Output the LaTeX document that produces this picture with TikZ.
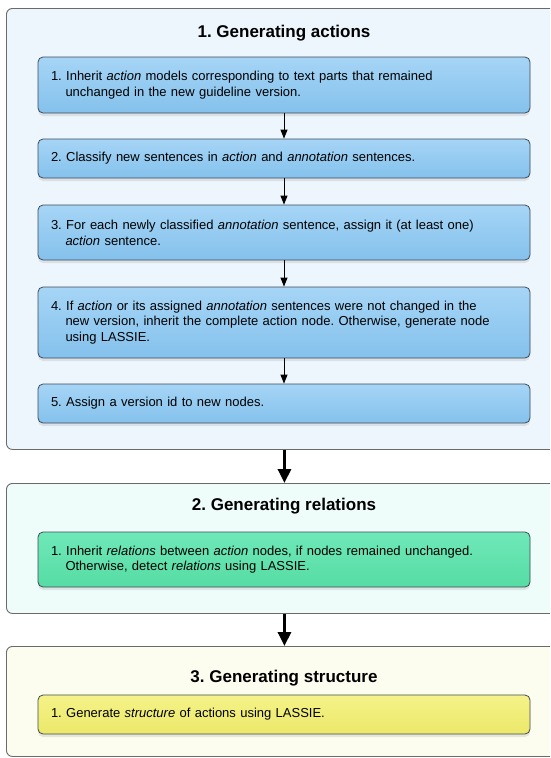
\documentclass[tikz,border=0pt]{standalone}
\usepackage{fontspec}
\setmainfont{Liberation Sans}
\usetikzlibrary{shadows,arrows.meta}
\frenchspacing
\definecolor{outerA}{HTML}{EEF6FD}
\definecolor{outerB}{HTML}{EFFDFA}
\definecolor{outerC}{HTML}{FDFDEF}
\definecolor{blueT}{HTML}{A6D5F6}
\definecolor{blueB}{HTML}{84C1EC}
\definecolor{greenT}{HTML}{6FE8B8}
\definecolor{greenB}{HTML}{56DCA4}
\definecolor{yelT}{HTML}{F5F388}
\definecolor{yelB}{HTML}{EBE86A}
\definecolor{innerline}{HTML}{3F4A55}
\definecolor{outerline}{HTML}{6A6A6A}
\newcommand{\hg}{\hspace*{14.5pt}}
\tikzset{
  outerbox/.style={draw=outerline, line width=0.9pt, rounded corners=6pt,
    minimum width=556pt, anchor=north west, inner sep=0pt},
  titletext/.style={font=\fontsize{17}{20}\selectfont\bfseries, inner sep=0pt},
  stepbox/.style={draw=innerline, line width=0.8pt, rounded corners=5pt,
    text width=466pt, align=left, inner xsep=13pt, inner ysep=0pt,
    font=\fontsize{13}{15.7}\selectfont\frenchspacing,
    drop shadow={opacity=0.18, shadow xshift=0pt, shadow yshift=-3pt}},
  bluebox/.style={stepbox, top color=blueT, bottom color=blueB},
  greenbox/.style={stepbox, top color=greenT, bottom color=greenB},
  yellowbox/.style={stepbox, top color=yelT, bottom color=yelB},
  thinarrow/.style={draw=black, line width=0.9pt, -{Triangle[length=9pt,width=7pt]}},
  thickarrow/.style={draw=black, line width=3pt, -{Triangle[length=14pt,width=13pt]}}
}
\begin{document}
\begin{tikzpicture}[x=1pt, y=-1pt]
\clip (0,0) rectangle (550,758);
\fill[white] (0,0) rectangle (550,758);

% group 1
\node[outerbox, fill=outerA, minimum height=441pt] (g1) at (6,8) {};
\node[titletext] (t1) at (284,33) {1. Generating actions};
\node[bluebox, minimum height=56pt] (a1) at (284,85)
  {1. Inherit \textit{action} models corresponding to text parts that remained\\\hg unchanged in the new guideline version.};
\node[bluebox, minimum height=39pt] (a2) at (284,158.5)
  {2. Classify new sentences in \textit{action} and \textit{annotation} sentences.};
\node[bluebox, minimum height=55pt] (a3) at (284,232.5)
  {3. For each newly classified \textit{annotation} sentence, assign it (at least one)\\\hg \textit{action} sentence.};
\node[bluebox, minimum height=71pt] (a4) at (284,322.5)
  {4. If \textit{action} or its assigned \textit{annotation} sentences were not changed in the\\\hg new version, inherit the complete action node. Otherwise, generate node\\\hg using LASSIE.};
\node[bluebox, minimum height=39pt] (a5) at (284,403.5)
  {5. Assign a version id to new nodes.};
\draw[thinarrow] (a1.south) -- (a2.north);
\draw[thinarrow] (a2.south) -- (a3.north);
\draw[thinarrow] (a3.south) -- (a4.north);
\draw[thinarrow] (a4.south) -- (a5.north);

% group 2
\node[outerbox, fill=outerB, minimum height=130pt] (g2) at (6,483) {};
\node[titletext] (t2) at (284,506) {2. Generating relations};
\node[greenbox, minimum height=55pt] (r1) at (284,559.5)
  {1. Inherit \textit{relations} between \textit{action} nodes, if nodes remained unchanged.\\\hg Otherwise, detect \textit{relations} using LASSIE.};

% group 3
\node[outerbox, fill=outerC, minimum height=110pt] (g3) at (6,646) {};
\node[titletext] (t3) at (284,678) {3. Generating structure};
\node[yellowbox, minimum height=39pt] (s1) at (284,714.5)
  {1. Generate \textit{structure} of actions using LASSIE.};

\draw[thickarrow] (g1.south) -- (g2.north);
\draw[thickarrow] (g2.south) -- (g3.north);
\end{tikzpicture}
\end{document}
